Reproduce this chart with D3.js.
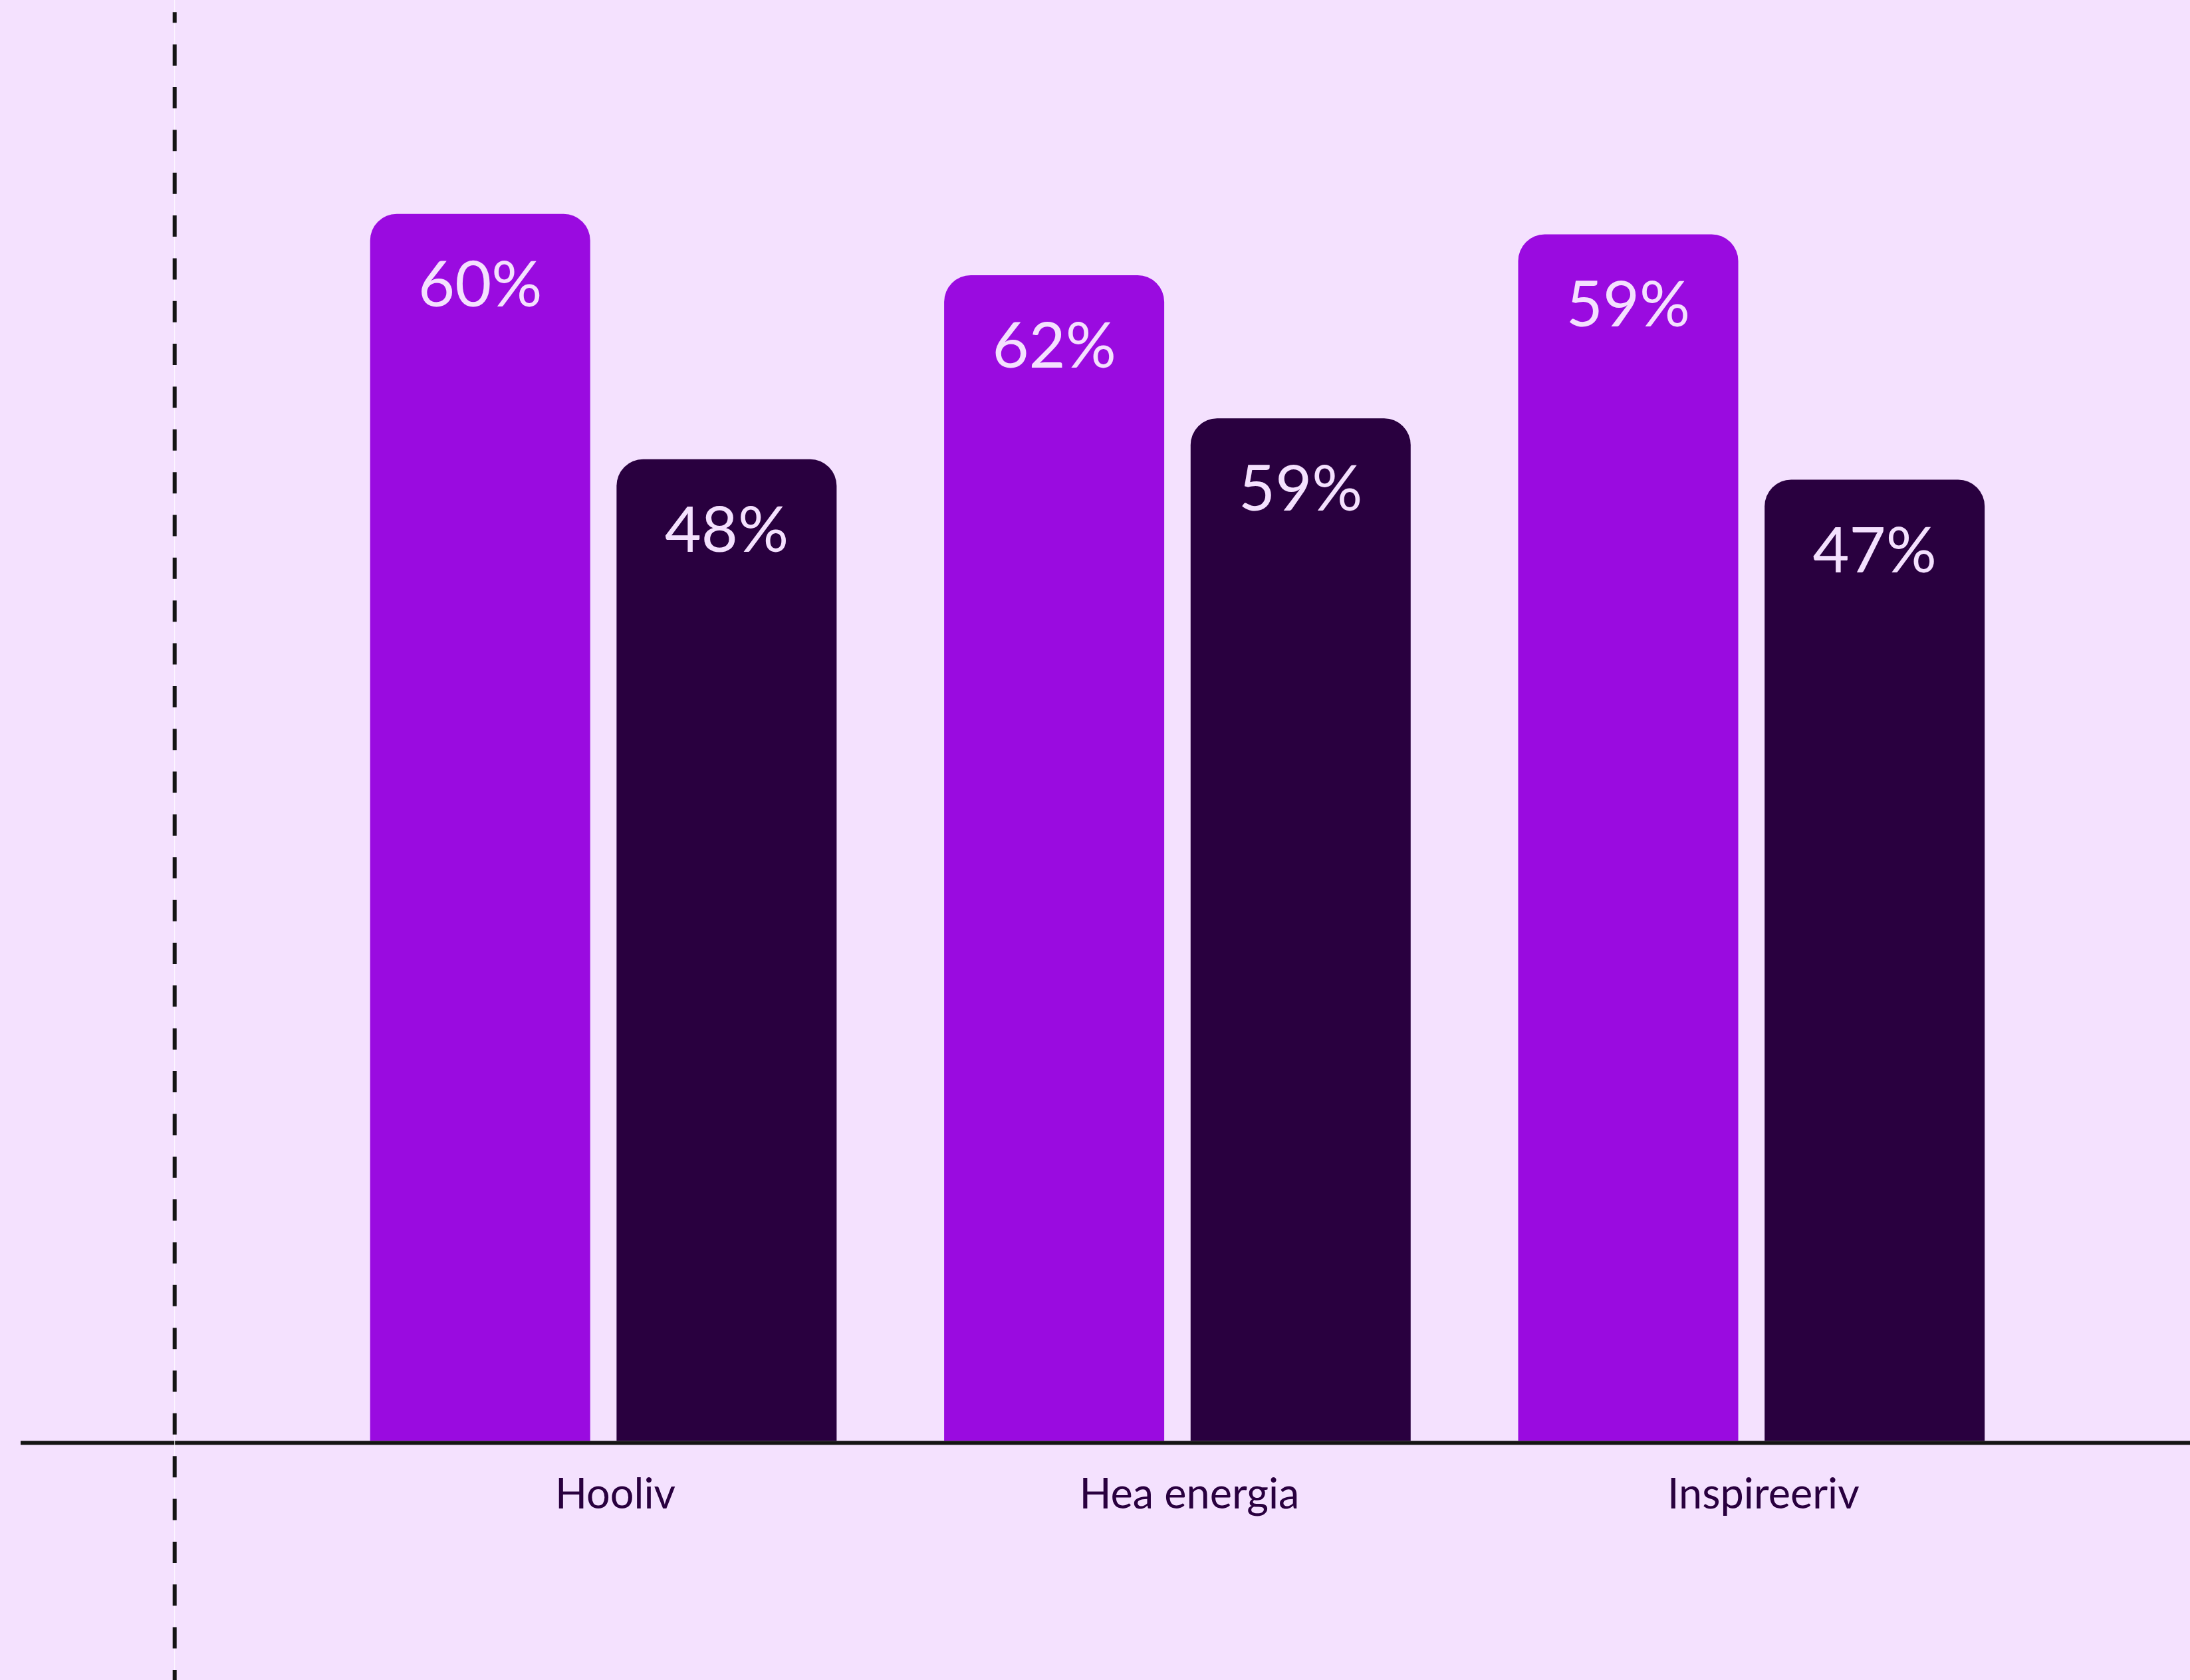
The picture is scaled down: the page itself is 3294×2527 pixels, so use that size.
<!DOCTYPE html>
<html>
<head>
<meta charset="utf-8">
<script src="https://cdn.jsdelivr.net/npm/d3@7"></script>
<style>
  html, body { margin: 0; padding: 0; background: #f4e1fe; }
  svg { display: block; }
</style>
</head>
<body>
<div id="chart"></div>
<script>
const WIDTH = 3294;
const HEIGHT = 2527;

// data
const categories = ['Hooliv', 'Hea energia', 'Inspireeriv'];
const series = ['a', 'b'];
// bar heights as drawn
const valuesA = [60, 57, 59];
const valuesB = [48, 50, 47];
// numbers printed on the bars
const labelsA = ['60%', '62%', '59%'];
const labelsB = ['48%', '59%', '47%'];

const palette = {a: '#9a0be0', b: '#29003f'};
const bg = '#f4e1fe';

const baseY = 2167;
const unit = 30.755;

let svg = d3.select('#chart')
    .append('svg')
    .attr('width', WIDTH)
    .attr('height', HEIGHT);

svg.append('rect')
    .attr('width', WIDTH)
    .attr('height', HEIGHT)
    .attr('fill', bg);

// scales
const x0 = d3.scaleBand()
    .domain(categories)
    .range([556.7, 556.7 + 863.4 * (3 - 0.1873)])
    .paddingInner(0.1873)
    .paddingOuter(0);

const x1 = d3.scaleBand()
    .domain(series)
    .range([0, x0.bandwidth()])
    .paddingInner(0.107);

const y = d3.scaleLinear()
    .domain([0, 70])
    .range([baseY, baseY - 70 * unit]);

let rows = categories.map((c, i) => ({
    cat: c,
    bars: [
        {key: 'a', value: valuesA[i], label: labelsA[i]},
        {key: 'b', value: valuesB[i], label: labelsB[i]}
    ]
}));

// bar with rounded top corners only
let topRounded = function(x, yTop, w, h, r) {
    return `M${x},${yTop + h}` +
        `V${yTop + r}` +
        `A${r},${r} 0 0 1 ${x + r},${yTop}` +
        `H${x + w - r}` +
        `A${r},${r} 0 0 1 ${x + w},${yTop + r}` +
        `V${yTop + h}Z`;
}

let groups = svg.append('g')
    .selectAll('g')
    .data(rows)
    .join('g')
    .attr('transform', d => `translate(${x0(d.cat)},0)`);

groups.selectAll('path')
    .data(d => d.bars)
    .join('path')
    .attr('d', d => topRounded(x1(d.key), y(d.value), x1.bandwidth(), y(0) - y(d.value), 40))
    .attr('fill', d => palette[d.key]);

groups.selectAll('text.val')
    .data(d => d.bars)
    .join('text')
    .attr('class', 'val')
    .attr('x', d => x1(d.key) + x1.bandwidth() / 2)
    .attr('y', d => y(d.value) + 139)
    .attr('text-anchor', 'middle')
    .attr('font-family', 'Lato, sans-serif')
    .attr('font-size', 95)
    .attr('fill', bg)
    .text(d => d.label);

// category labels
svg.append('g')
    .selectAll('text')
    .data(categories)
    .join('text')
    .attr('x', d => x0(d) + x0.bandwidth() / 2 + 18)
    .attr('y', 2268.5)
    .attr('text-anchor', 'middle')
    .attr('font-family', 'Lato, sans-serif')
    .attr('font-size', 63)
    .attr('fill', '#29003f')
    .text(d => d);

// baseline
svg.append('line')
    .attr('x1', 31)
    .attr('x2', WIDTH)
    .attr('y1', 2170.3)
    .attr('y2', 2170.3)
    .attr('stroke', '#141414')
    .attr('stroke-width', 6);

// dashed reference line with a thin light core
svg.append('line')
    .attr('x1', 262.7)
    .attr('x2', 262.7)
    .attr('y1', 0)
    .attr('y2', HEIGHT)
    .attr('stroke', '#ffffff')
    .attr('stroke-opacity', 0.85)
    .attr('stroke-width', 1);

svg.append('line')
    .attr('x1', 262.7)
    .attr('x2', 262.7)
    .attr('y1', 18.3)
    .attr('y2', HEIGHT)
    .attr('stroke', '#141414')
    .attr('stroke-width', 6)
    .attr('stroke-dasharray', '32 32.35')
    .attr('stroke-dashoffset', 16);
</script>
</body>
</html>
